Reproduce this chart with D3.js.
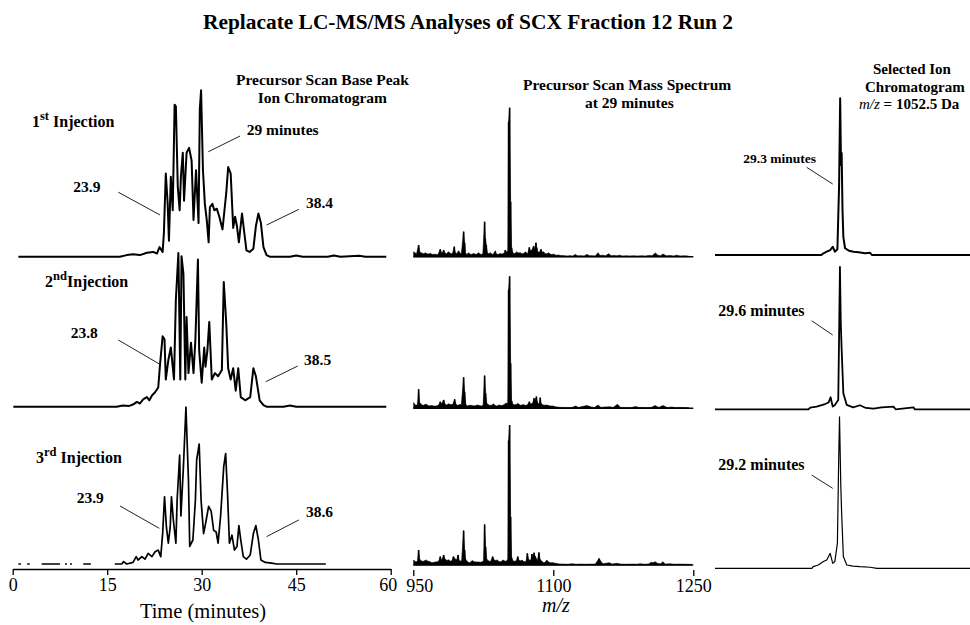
<!DOCTYPE html>
<html><head><meta charset="utf-8">
<script src="https://cdn.jsdelivr.net/npm/d3@7"></script>
<style>body{margin:0;background:#fff} svg{display:block}</style>
</head><body>
<svg id="c" width="970" height="625"></svg>
<script>
// ---------------- DATA ----------------
const timeTicks = [0, 15, 30, 45, 60];
const mzTicks = [950, 1100, 1250];
const injectionNums = ["1", "2", "3"];
const injectionSups = ["st", "nd", "rd"];

// Base peak ion chromatograms [time (min), relative intensity]; null = no data
const bpc1 = [[0.9,0],[17.0,0],[18.1,1],[19.1,1.5],[20.2,1],[21.3,2.5],[22.3,3],[22.9,2],[23.3,6],[23.8,3],[24.0,15],[24.3,52],[24.6,33],[24.8,10],[25.1,50],[25.4,29],[25.7,95],[25.9,94],[26.2,44],[26.5,29],[26.7,50],[27.0,65],[27.2,35],[27.6,65],[28.0,68],[28.4,60],[28.7,23],[29.1,54],[29.5,21],[29.7,92],[29.9,104],[30.2,54],[30.5,33],[30.8,23],[31.1,9],[31.3,31],[31.7,33],[32.0,29],[32.4,30],[32.8,25],[33.3,17],[33.9,40],[34.2,56],[34.6,52],[35.0,18],[35.3,25],[35.6,19],[35.9,9],[36.4,27],[36.7,17],[37.1,4],[37.6,3],[38.2,5],[38.6,19],[39.0,27],[39.4,21],[39.8,6],[40.3,1],[40.8,0],[44,0],[45,0.8],[46,0],[50,0],[51,0.8],[52,0],[55,0.6],[56,0],[59.3,0]];
const bpc2 = [[0.1,0],[16.5,0],[17.5,0.8],[18.5,0.5],[19.2,1.5],[19.7,3],[20.2,2],[20.7,4.6],[21.3,6],[21.7,4],[22.1,7],[22.6,9],[23.1,12],[23.4,27],[23.8,44],[24.1,42],[24.3,17],[24.7,29],[25.1,37],[25.4,25],[25.6,17],[25.9,67],[26.3,96],[26.6,17],[26.8,94],[27.1,83],[27.4,17],[27.6,56],[27.9,21],[28.3,40],[28.7,21],[29.0,42],[29.4,92],[29.6,35],[30.0,15],[30.4,37],[30.6,25],[30.9,35],[31.2,53],[31.6,17],[32.1,21],[32.6,19],[33.2,23],[33.5,78],[33.9,52],[34.2,24],[34.6,17],[35.0,24],[35.4,10],[35.8,24],[36.2,6],[36.9,4],[37.7,6],[38.2,24],[38.6,19],[39.2,4],[39.8,1],[40.3,0],[43,0],[44,0.7],[45,0],[59.3,0]];
const bpc3 = [[0.9,0],[1.3,0],[1.4,null],[2.3,0],[2.7,0],[2.8,null],[4.6,0],[7.5,0],[7.6,null],[8.3,0],[8.6,0],[8.7,null],[9.1,0],[9.4,0],[9.5,null],[11.2,0],[12.4,0],[12.5,null],[16.2,0],[17.3,0],[17.6,1.5],[18.1,0],[19.1,1],[19.6,4.6],[19.9,2.5],[20.5,4.6],[21.0,3],[21.5,6.7],[22.1,4.6],[22.6,7.7],[23.1,8.7],[23.5,4.6],[23.8,19],[24.1,42],[24.4,23],[24.7,13],[25.0,23],[25.2,42],[25.5,27.5],[25.9,13],[26.1,40],[26.5,68],[26.7,30],[27.1,61],[27.5,98],[27.9,52],[28.1,11],[28.6,15],[29.0,40],[29.2,65],[29.6,75],[29.9,40],[30.3,19],[30.6,25],[31.1,36],[31.5,33],[31.9,21],[32.3,20],[32.6,13],[33.0,30],[33.5,61],[33.8,69],[34.1,44],[34.4,13],[34.8,18],[35.2,8.7],[35.6,11],[35.9,24],[36.2,15],[36.6,4.6],[37.1,3],[37.7,5.6],[38.2,19],[38.6,24],[39.0,15],[39.4,2.5],[40.1,1],[41.1,0.5],[41.9,0],[49.7,0]];

// Precursor mass spectra at 29 min [m/z, relative intensity]
const spec1 = [[950.4,3.3],[952,2.5],[953.5,2],[955.7,7.8],[957,3],[958.5,2.7],[960,2.2],[961.5,2],[962.9,2.7],[964.5,2],[966,1.8],[968.2,2.2],[969.5,1.8],[971,1.5],[972.5,1.6],[973.6,1.6],[975,1.4],[976.5,1.5],[978.9,4.9],[980,3],[981,2.5],[982.5,4.4],[984,2.5],[985.5,2],[987.8,3.3],[989,2.5],[990.5,2],[992,2.2],[993.9,6.7],[995,3],[996.5,2],[998.5,4],[1000,2.5],[1001.5,2],[1003.9,16.7],[1005,9.3],[1006,2.5],[1007.5,1.5],[1009.2,2.7],[1010.5,1.8],[1012,1.5],[1013.5,1.8],[1014.6,2.2],[1016,1.8],[1017.5,1.5],[1019.9,2.7],[1021.5,1.8],[1023,1.5],[1024.5,2],[1026.4,23.3],[1027.2,12],[1028.2,7.8],[1029.5,2.5],[1031,2],[1032.5,2.7],[1034,1.8],[1035.5,1.5],[1037.9,4],[1039,2],[1040.5,1.5],[1042,1.8],[1043.2,2.2],[1044.5,1.8],[1046,2],[1047.5,2.5],[1048.6,4.4],[1050,3],[1051.3,4],[1052.1,90],[1053.2,99.3],[1054.3,36.7],[1055.3,6],[1056.5,3],[1058,2],[1059.5,2.5],[1061,3.3],[1062.5,2.5],[1064.6,2.7],[1066,2.2],[1067.5,2],[1069,2.5],[1070,3.3],[1071.5,2.5],[1072.5,2],[1074.3,6.2],[1075.5,4],[1077.1,4.4],[1078.9,7.1],[1080,5],[1081.4,9.3],[1082.3,6],[1083.2,3.3],[1085,3],[1086.8,4.9],[1088,3],[1089.6,3.3],[1091,2.2],[1092.5,2],[1094,2.2],[1095,2.7],[1096.5,1.8],[1098,1.5],[1099.5,1.5],[1100.4,1.8],[1102,1.2],[1103.5,1],[1105.7,1.1],[1108,0.8],[1112,0.7],[1115,0.5],[1118,0.7],[1121,0.5],[1123.5,1.5],[1126,0.6],[1130,0.7],[1133,0.5],[1136,1.5],[1139,0.6],[1142,0.7],[1145,0.5],[1147.9,2.7],[1150,0.8],[1153,1],[1156,0.6],[1159.3,2],[1162,0.7],[1165,0.8],[1168,0.6],[1171,1],[1174,0.5],[1178,0.6],[1182,0.5],[1185,0.6],[1190,0.5],[1195,0.6],[1199,0.5],[1202,0.8],[1206,0.7],[1209.3,2.5],[1212,1],[1215,0.7],[1217.5,1.8],[1221,0.6],[1225,0.8],[1229,0.5],[1232,1],[1236,0.5],[1240,0.6],[1245,0.4]];
const spec2 = [[950.4,3.8],[951.5,2.5],[953,2],[954.5,2.5],[955.7,12.7],[956.8,4],[958,3],[959.5,2.2],[961,2],[962.5,2.5],[964,2.7],[965.5,2],[967,1.5],[968.5,1.8],[970,1.8],[972,1.5],[974,1.5],[976,1.8],[977.5,2.5],[978.9,4.4],[980.5,3],[982.5,5.6],[984,3],[985,2],[986.5,2.5],[988,3],[989.5,2.5],[991,2.5],[992.5,2.8],[994.3,6],[995.5,3],[997,2],[998.5,2.2],[1000,2.5],[1001.5,2.5],[1003.9,20.7],[1005,11],[1006.3,2.5],[1008,1.5],[1009.5,2],[1011,2],[1013,1.8],[1015,1.5],[1017,1.8],[1019,2.2],[1021,1.8],[1023,1.5],[1024.8,2.2],[1026.4,21.8],[1027.5,10],[1028.7,3.5],[1030,2.5],[1031.5,2],[1033,2],[1034.5,2.2],[1036,3],[1037.5,2],[1039,1.5],[1040.5,1.8],[1042,2.2],[1044,1.8],[1046,2],[1047.5,2.5],[1049,3.5],[1050.5,3],[1051.3,4],[1052.1,79],[1053.2,88],[1054.3,30],[1055.3,5],[1056.5,3],[1058,2.2],[1059,2.5],[1060.5,2.5],[1062,3.3],[1063.5,2.5],[1065,2],[1066.5,2.2],[1068,2.5],[1069.5,2],[1071,2],[1072.5,2.5],[1074.3,4.4],[1075.5,3],[1077,3],[1078.2,4],[1079.4,6.7],[1080.5,5],[1081.9,7.8],[1082.8,4.5],[1083.5,3],[1085,3],[1086,7.1],[1087,3.5],[1088,2.5],[1089.5,2.2],[1091,2],[1093,2.2],[1095,1.8],[1097,1.5],[1098.5,1.5],[1100,1.5],[1102,1],[1105,0.8],[1108,0.6],[1112,0.6],[1116,0.5],[1120,0.6],[1124,1.5],[1127,0.6],[1131,1.2],[1136,1.8],[1141,0.8],[1144,0.5],[1148,2.2],[1151,0.6],[1155,0.8],[1161,1],[1164,0.5],[1168.8,2.7],[1172,0.6],[1175,0.6],[1180,0.5],[1184,0.5],[1188,1.2],[1192,0.5],[1195,0.6],[1200,0.5],[1205,0.6],[1209,1.8],[1213,0.6],[1217.5,1.8],[1222,0.5],[1227,0.8],[1231,0.5],[1235,0.6],[1240,0.5],[1245,0.4]];
const spec3 = [[950.4,3.3],[951.7,2.5],[953,2],[954.5,2.8],[955.7,10],[956.8,4],[958,3],[959.5,2.5],[961,2.5],[962.5,3],[964,3.3],[965.5,2.5],[967,2.5],[968.5,2],[970,1.5],[972,1.8],[974,2],[976,2.2],[977.5,3],[978.9,5.6],[980.5,3],[982.5,6.7],[983.8,4],[985,3.5],[986.3,3],[987.5,3.5],[989,3],[990,2.5],[991.5,3],[993,5.6],[995,4],[996.5,3.5],[998,6.7],[999,3.5],[1000,2.5],[1001.8,3],[1003.9,22.9],[1005,10],[1006,4],[1007,3],[1008.5,2],[1010,1.5],[1011.5,2],[1013,3],[1015,2.2],[1017,2],[1018.5,2],[1020,2],[1022,1.8],[1024,2.2],[1025.3,3],[1026.4,27],[1027.5,12],[1028.7,4],[1030,3],[1031.5,2.5],[1033,2.5],[1035,5.6],[1036.5,3.5],[1038,3],[1040,3.3],[1041.5,2.5],[1043,2],[1044.5,2.5],[1046,3.3],[1047.5,2.8],[1049,2.5],[1050.5,3],[1051.3,4],[1052.1,83],[1053.2,93.3],[1054.3,32],[1055.3,5],[1056.5,3],[1058,2.5],[1059,2.5],[1060.5,3],[1061.9,5.6],[1063,3.5],[1064,3],[1065.2,2.8],[1066.5,3.3],[1068,2.5],[1070,2],[1071,3],[1072.2,7.8],[1073.5,4],[1075,3],[1076,3.5],[1077.1,7.3],[1078.2,5],[1079.4,8.2],[1080.3,6],[1081,5],[1082,4],[1083,3],[1084.6,8.4],[1085.8,4],[1087,3],[1088.5,2],[1090,1.5],[1091.5,2],[1093,3.3],[1095,2],[1097,1.5],[1098.5,1.5],[1100,1.5],[1101.5,1.2],[1103,1.1],[1106,0.7],[1110,0.6],[1115,0.5],[1120,0.8],[1125,0.5],[1130,0.6],[1135,0.5],[1140,0.6],[1145,0.6],[1149,4.4],[1152,1.5],[1154,0.8],[1156,1.1],[1160,1.5],[1163,0.6],[1168,1.1],[1172,0.6],[1178,0.5],[1185,0.6],[1189,0.5],[1193,0.8],[1198,0.5],[1202,0.7],[1205,1.8],[1207,1.5],[1209,2.2],[1212,1],[1215,0.8],[1217.5,2.2],[1220,0.6],[1225,0.8],[1230,0.5],[1235,0.6],[1242,0.5],[1248,0.4]];

// Selected ion chromatograms m/z 1052.5 [time (min), relative intensity]
const sic1 = [[0,0],[25.0,0],[25.5,1.1],[26.3,2.2],[27.1,3.3],[27.7,5.5],[28.2,2.2],[28.8,3.8],[29.2,46.7],[29.45,104.5],[29.65,60],[29.8,68],[30.0,30],[30.2,12],[30.6,4.5],[31.5,2.9],[32.6,2.2],[33.8,1.8],[35.3,1.1],[36.5,1.5],[36.9,0],[60,0]];
const sic2 = [[0,0],[22.0,0],[22.4,1.1],[23.9,1.8],[25.9,3.5],[26.7,4.5],[27.2,8],[27.7,1.8],[28.2,2.9],[29.0,6.2],[29.2,49.5],[29.4,95],[29.6,57],[29.8,40],[30.2,10.7],[31.0,2.9],[32.5,1.3],[34.1,2.7],[35.5,0.9],[37.3,0.5],[39.2,1.3],[42,1.8],[42.5,0],[46.7,1.3],[47,0],[60,0]];
const sic3 = [[0,0],[22.8,0],[23.1,1.1],[24.3,2.2],[25.5,4.5],[26.3,5.5],[27.1,10],[27.7,3.3],[28.2,4.5],[28.8,16.7],[29.1,72],[29.3,101],[29.6,55],[29.8,36.7],[30.2,7.8],[31.0,2.2],[32.5,1.5],[34.1,1.1],[36.5,0.7],[38.1,0],[60,0]];

// Peak annotations [label, time, intensity at leader end]
const bpcNotes = [
  [["23.9", 23.38, 26.1], ["29 minutes", 31.05, 65.6], ["38.4", 40.3, 19.8]],
  [["23.8", 23.27, 26.7], ["38.5", 40.16, 15.6]],
  [["23.9", 23.27, 22.3], ["38.6", 40.3, 17.1]]
];
const sicNotes = [["29.3 minutes", 27.7, 47.3], ["29.6 minutes", 27.7, 49.5], ["29.2 minutes", 27.7, 53.3]];

// ---------------- LAYOUT ----------------
const svg = d3.select("#c");
const serif = "'Liberation Serif','Times New Roman',Times,serif";
const bpcs = [bpc1, bpc2, bpc3], specs = [spec1, spec2, spec3], sics = [sic1, sic2, sic3];

const xTime = d3.scaleLinear().domain([0, 60]).range([12.7, 390.7]);
const xMz = d3.scaleLinear().domain([950, 1250]).range([413.3, 693.3]);
const xSic = d3.scaleLinear().domain([0, 60]).range([715, 970]);
const hBpc = d3.scaleLinear().domain([0, 100]).range([0, 160]);
const hSpec = d3.scaleLinear().domain([0, 100]).range([0, 150]);
const hSic = d3.scaleLinear().domain([0, 100]).range([0, 150]);

const bpcBase = [256.7, 406.7, 564];
const specBase = [256.7, 408.3, 565];
const sicBase = [255, 409.3, 568.3];
const bpcWidth = [2, 2, 1.7];
const sicWidth = [2, 1.8, 1.2];

// Title
svg.append("text").attr("x", 468).attr("y", 29).attr("text-anchor", "middle")
  .attr("font-family", serif).attr("font-weight", "bold").attr("font-size", 21.4)
  .text("Replacate LC-MS/MS Analyses of SCX Fraction 12 Run 2");

function titleBlock(xs, y0, dy, lines, size) {
  lines.forEach((ln, i) => {
    const t = svg.append("text").attr("x", xs[i]).attr("y", y0 + i * dy)
      .attr("font-family", serif).attr("font-weight", "bold").attr("font-size", size);
    if (typeof ln === "string") t.text(ln);
    else ln(t);
  });
}
titleBlock([236, 257.7], 85, 18.3, ["Precursor Scan Base Peak", "Ion Chromatogram"], 15.5);
titleBlock([523, 585], 90, 18.3, ["Precursor Scan Mass Spectrum", "at 29 minutes"], 15.5);
titleBlock([873, 865, 859], 74, 17.6, ["Selected Ion", "Chromatogram", t => {
  t.append("tspan").attr("font-style", "italic").attr("font-weight", "normal").text("m/z");
  t.append("tspan").text(" = 1052.5 Da");
}], 15);

// Base peak chromatograms
const bpcLine = base => d3.line().defined(d => d[1] !== null)
  .x(d => xTime(d[0])).y(d => base - hBpc(d[1]));
bpcs.forEach((data, i) => {
  svg.append("path").datum(data).attr("d", bpcLine(bpcBase[i]))
    .attr("fill", "none").attr("stroke", "#000").attr("stroke-width", bpcWidth[i])
    .attr("stroke-linejoin", "round");
});

// Injection labels
const injPos = [[32, 126.7, " Injection"], [45, 286.7, "Injection"], [36, 463.3, " Injection"]];
injPos.forEach((p, i) => {
  const t = svg.append("text").attr("x", p[0]).attr("y", p[1])
    .attr("font-family", serif).attr("font-weight", "bold").attr("font-size", 16);
  t.append("tspan").text(injectionNums[i]);
  t.append("tspan").attr("font-size", 12.5).attr("dy", -7).text(injectionSups[i]);
  t.append("tspan").attr("dy", 7).text(p[2]);
});

// Peak annotations (leader offsets / text offsets in px)
const bpcNoteOff = [
  [[-41.7, -22.7, -86.7, -23.3], [31.7, -15.7, 38.4, -16.7], [32.3, -15.7, 39.3, -16.7]],
  [[-41, -24, -88.6, -25.7], [32, -15.7, 38.3, -16.7]],
  [[-39.3, -22.3, -82.6, -25.6], [32.3, -16.7, 39.3, -19.4]]
];
bpcNotes.forEach((notes, i) => {
  notes.forEach((n, j) => {
    const ax = xTime(n[1]), ay = bpcBase[i] - hBpc(n[2]);
    const o = bpcNoteOff[i][j];
    svg.append("line").attr("x1", ax).attr("y1", ay).attr("x2", ax + o[0]).attr("y2", ay + o[1])
      .attr("stroke", "#222").attr("stroke-width", 1);
    svg.append("text").attr("x", ax + o[2]).attr("y", ay + o[3])
      .attr("font-family", serif).attr("font-weight", "bold").attr("font-size", 15.5).text(n[0]);
  });
});

// Time axis
const ax1 = svg.append("g").attr("transform", "translate(0,569)")
  .call(d3.axisBottom(xTime).tickValues(timeTicks).tickSize(6).tickSizeOuter(0).tickPadding(3));
ax1.select(".domain").attr("stroke", "#000").attr("stroke-width", 1.3);
ax1.selectAll(".tick line").attr("stroke", "#000").attr("stroke-width", 1.3);
ax1.selectAll("text").attr("font-family", serif).attr("font-size", 18).attr("fill", "#000");
ax1.selectAll(".tick text").filter(d => d === 60).attr("dx", -3);
svg.append("text").attr("x", 203).attr("y", 618).attr("text-anchor", "middle")
  .attr("font-family", serif).attr("font-size", 20.5).text("Time (minutes)");

// Mass spectra: filled profile plus sticks for the taller ions
const specArea = base => d3.area().x(d => xMz(d[0])).y0(base).y1(d => base - hSpec(d[1]));
specs.forEach((data, i) => {
  const base = specBase[i];
  svg.append("line").attr("x1", xMz(950)).attr("x2", xMz(1250)).attr("y1", base).attr("y2", base)
    .attr("stroke", "#000").attr("stroke-width", 1.5);
  svg.append("path").datum(data).attr("d", specArea(base))
    .attr("fill", "#000").attr("stroke", "#000").attr("stroke-width", 0.6);
  svg.append("g").selectAll("line").data(data.filter(d => d[1] > 4)).join("line")
    .attr("x1", d => xMz(d[0])).attr("x2", d => xMz(d[0]))
    .attr("y1", base).attr("y2", d => base - hSpec(d[1]))
    .attr("stroke", "#000").attr("stroke-width", 1.6);
});
const ax2 = svg.append("g").attr("transform", "translate(0,570)")
  .call(d3.axisBottom(xMz).tickValues(mzTicks).tickFormat(d3.format("d")).tickSize(6).tickSizeOuter(0).tickPadding(3));
ax2.select(".domain").remove();
ax2.selectAll(".tick line").attr("stroke", "#000").attr("stroke-width", 1.3);
ax2.selectAll("text").attr("font-family", serif).attr("font-size", 18).attr("fill", "#000");
ax2.selectAll(".tick text").filter(d => d === 950).attr("dx", 6);
svg.append("text").attr("x", 556).attr("y", 612).attr("text-anchor", "middle")
  .attr("font-family", serif).attr("font-style", "italic").attr("font-size", 20).text("m/z");

// Selected ion chromatograms
sics.forEach((data, i) => {
  const base = sicBase[i];
  svg.append("path").datum(data)
    .attr("d", d3.line().x(d => xSic(d[0])).y(d => base - hSic(d[1])))
    .attr("fill", "none").attr("stroke", "#000").attr("stroke-width", sicWidth[i])
    .attr("stroke-linejoin", "round");
});
const sicOff = [[-26, -16.7, -89.4, -20.7, 13.5], [-21, -14.3, -114.4, -19, 16], [-21, -13.3, -114.4, -18.3, 16]];
sicNotes.forEach((n, i) => {
  const ax = xSic(n[1]), ay = sicBase[i] - hSic(n[2]);
  const o = sicOff[i];
  svg.append("line").attr("x1", ax).attr("y1", ay).attr("x2", ax + o[0]).attr("y2", ay + o[1])
    .attr("stroke", "#222").attr("stroke-width", 1);
  svg.append("text").attr("x", ax + o[2]).attr("y", ay + o[3])
    .attr("font-family", serif).attr("font-weight", "bold").attr("font-size", o[4]).text(n[0]);
});
</script>
</body></html>
